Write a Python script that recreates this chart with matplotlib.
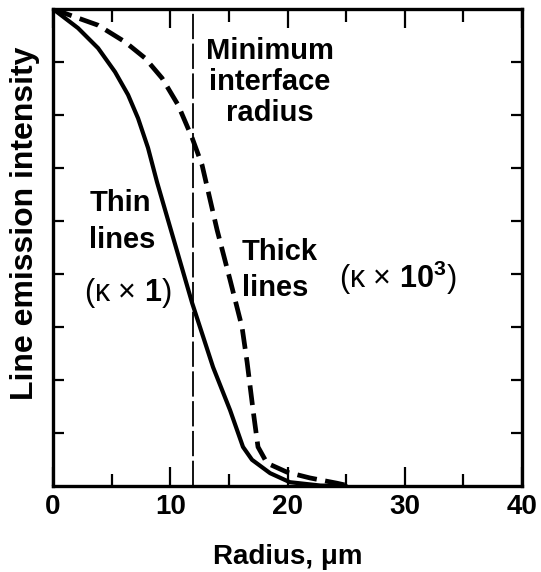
import numpy as np
import matplotlib
matplotlib.use("Agg")
import matplotlib.pyplot as plt
from matplotlib.ticker import MultipleLocator, NullFormatter

plt.rcParams['font.family'] = ['Liberation Sans', 'DejaVu Sans']
plt.rcParams['mathtext.fontset'] = 'custom'
plt.rcParams['mathtext.rm'] = 'Liberation Sans'
plt.rcParams['mathtext.bf'] = 'Liberation Sans:bold'

# curves (radius in um, normalised intensity)
thin_r = [0, 2.13, 3.84, 5.29, 6.40, 7.25, 8.10, 8.87, 9.98, 11.86, 13.65,
          15.10, 16.20, 16.97, 18.51, 20.2, 22.8, 25.0]
thin_i = [1.0, 0.960, 0.918, 0.868, 0.820, 0.771, 0.709, 0.637, 0.543, 0.384, 0.249,
          0.159, 0.082, 0.055, 0.027, 0.008, 0.001, 0.0]

thick_r = [0, 2.13, 3.84, 6.14, 7.85, 9.30, 10.66, 11.86, 12.71, 13.99, 15.10,
           16.12, 16.55, 17.06, 17.48, 18.25, 19.96, 21.9, 24.2, 25.3]
thick_i = [1.0, 0.981, 0.966, 0.931, 0.897, 0.855, 0.799, 0.730, 0.673, 0.537, 0.432,
           0.333, 0.260, 0.159, 0.082, 0.048, 0.029, 0.017, 0.006, 0.0]

interface_r = 11.94
xticklabels = ["0", "10", "20", "30", "40"]

fig = plt.figure(figsize=(5.41, 5.72), dpi=100)
ax = fig.add_axes([0.098, 0.1503, 0.867, 0.834])

ax.plot(thin_r, thin_i, color="black", lw=3.0, solid_joinstyle="round",
        solid_capstyle="round")
ax.plot(thick_r, thick_i, color="black", lw=3.4, dashes=(4.2, 1.8))
ax.axvline(interface_r, color="black", lw=1.3, dashes=(14, 2.5))

ax.set_xlim(0, 40)
ax.set_ylim(0, 1)

ax.set_xticks([0, 10, 20, 30, 40])
ax.set_xticklabels(xticklabels, fontsize=20, fontweight="bold")
ax.xaxis.set_minor_locator(MultipleLocator(5))
ax.set_yticks(np.arange(1, 9) / 9)
ax.yaxis.set_major_formatter(NullFormatter())

ax.tick_params(axis="x", which="major", direction="in", length=14, width=1.6,
               top=True, pad=6)
ax.tick_params(axis="x", which="minor", direction="in", length=9, width=1.6, top=True)
ax.tick_params(axis="y", which="major", direction="in", length=8, width=1.6, right=True)
for s in ax.spines.values():
    s.set_linewidth(2.4)

ax.set_xlabel("Radius, \u03bcm", fontsize=20, fontweight="bold")
ax.xaxis.set_label_coords(0.501, -0.122)
ax.set_ylabel("Line emission intensity", fontsize=23, fontweight="bold")
ax.yaxis.set_label_coords(-0.028, 0.551)

txt = dict(fontsize=21, fontweight="bold", ha="center", va="center")
ax.text(18.5, 0.847, "Minimum\ninterface\nradius", linespacing=1.15, **txt)
ax.text(5.71, 0.593, "Thin", **txt)
ax.text(5.88, 0.516, "lines", **txt)
ax.text(6.40, 0.405, "(\u03ba \u00d7 $\\mathbf{1}$)", fontsize=22, ha="center", va="center")
ax.text(19.36, 0.491, "Thick", **txt)
ax.text(18.93, 0.415, "lines", **txt)
ax.text(29.4, 0.436, "(\u03ba \u00d7 $\\mathbf{10^3}$)", fontsize=22, ha="center", va="center")

fig.savefig("out.png", dpi=100)
